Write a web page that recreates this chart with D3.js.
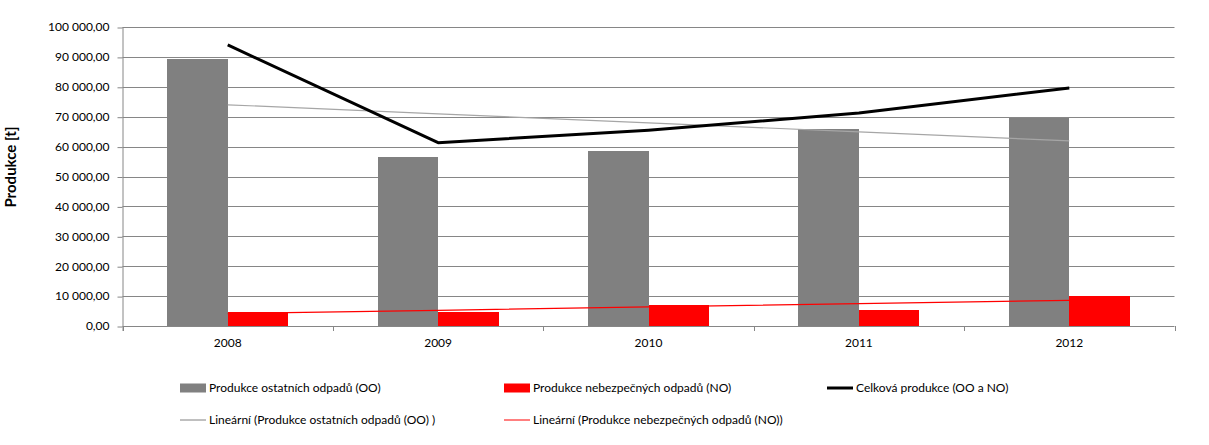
<!DOCTYPE html>
<html><head><meta charset="utf-8">
<script src="https://cdn.jsdelivr.net/npm/d3@7"></script>
<style>body{margin:0;background:#fff} text{font-family:Lato, "Open Sans", sans-serif;fill:#000}</style>
</head><body><svg id="c" width="1209" height="445"></svg>
<script>
const years = ["2008", "2009", "2010", "2011", "2012"];
const ooValues = [89300, 56500, 58500, 65900, 69500];
const noValues = [4700, 4800, 7000, 5350, 10000];
const totalValues = [94000, 61300, 65500, 71250, 79600];
const yTicks = [0, 10000, 20000, 30000, 40000, 50000, 60000, 70000, 80000, 90000, 100000];
const yTitle = "Produkce [t]";
const legendOO = "Produkce ostatních odpadů (OO)";
const legendNO = "Produkce nebezpečných odpadů (NO)";
const legendTotal = "Celková produkce (OO a NO)";
const legendTrendOO = "Lineární (Produkce ostatních odpadů (OO) )";
const legendTrendNO = "Lineární (Produkce nebezpečných odpadů (NO))";

const svg = d3.select("#c");
const pLeft = 122.5, pRight = 1174.5, pTop = 27, pBottom = 326;
const x = d3.scaleBand().domain(years).range([pLeft, pRight]).padding(0);
const y = d3.scaleLinear().domain([0, 100000]).range([pBottom, pTop]);
const cx = yr => x(yr) + x.bandwidth() / 2;
const barW = x.bandwidth() * 0.2875;
const loc = d3.formatLocale({decimal: ",", thousands: " ", grouping: [3], currency: ["", ""]});
const fmt = loc.format(",.2f");
const gridColor = "#868686";

// gridlines
svg.append("g").selectAll("line").data(yTicks.filter(t => t > 0)).join("line")
  .attr("x1", pLeft).attr("x2", pRight)
  .attr("y1", d => Math.round(y(d)) + 0.5).attr("y2", d => Math.round(y(d)) + 0.5)
  .attr("stroke", gridColor).attr("stroke-width", 1);

// bars
svg.append("g").selectAll("rect").data(years).join("rect")
  .attr("x", d => cx(d) - barW).attr("width", barW)
  .attr("y", (d, i) => y(ooValues[i])).attr("height", (d, i) => pBottom - y(ooValues[i]))
  .attr("fill", "#808080").attr("shape-rendering", "crispEdges");
svg.append("g").selectAll("rect").data(years).join("rect")
  .attr("x", d => cx(d)).attr("width", barW)
  .attr("y", (d, i) => y(noValues[i])).attr("height", (d, i) => pBottom - y(noValues[i]))
  .attr("fill", "#FF0000").attr("shape-rendering", "crispEdges");

// trend lines (linear regression of the series)
function trend(vals) {
  const xs = vals.map((v, i) => i + 1);
  const mx = d3.mean(xs), my = d3.mean(vals);
  const slope = d3.sum(xs.map((xv, i) => (xv - mx) * (vals[i] - my))) / d3.sum(xs.map(xv => (xv - mx) ** 2));
  return xs.map(xv => my + slope * (xv - mx));
}
const line = d3.line().x((d, i) => cx(years[i])).y(d => y(d));
svg.append("path").attr("d", line(trend(ooValues))).attr("fill", "none").attr("stroke", "#A6A6A6").attr("stroke-width", 1.2);
svg.append("path").attr("d", line(trend(noValues))).attr("fill", "none").attr("stroke", "#FF0000").attr("stroke-width", 1.2);

// total line
svg.append("path").attr("d", line(totalValues)).attr("fill", "none").attr("stroke", "#000").attr("stroke-width", 3).attr("stroke-linejoin", "round");

// axes
const yAxis = d3.axisLeft(y).tickValues(yTicks).tickFormat(fmt).tickSize(5).tickSizeOuter(0).tickPadding(8);
const gy = svg.append("g").attr("transform", `translate(${pLeft},0)`).call(yAxis);
gy.select(".domain").attr("stroke", gridColor).attr("d", `M0.5,${pTop}V${pBottom + 5}`);
gy.selectAll(".tick line").attr("stroke", gridColor).attr("transform", "translate(0,0.5)");
gy.selectAll("text").style("font-size", "12px").attr("fill", "#000");

const xAxis = d3.axisBottom(x).tickSize(0).tickPadding(12.5);
const gx = svg.append("g").attr("transform", `translate(0,${pBottom})`).call(xAxis);
gx.select(".domain").attr("stroke", gridColor).attr("d", `M${pLeft},0.5H${pRight}`);
gx.selectAll("text").style("font-size", "12px").attr("fill", "#000");
svg.append("g").selectAll("line").data(years.concat(["end"])).join("line")
  .attr("x1", (d, i) => Math.round(pLeft + i * x.step()) + 0.5)
  .attr("x2", (d, i) => Math.round(pLeft + i * x.step()) + 0.5)
  .attr("y1", pBottom).attr("y2", pBottom + 5).attr("stroke", gridColor);

// y title
svg.append("text").attr("transform", "translate(16,167) rotate(-90)").attr("text-anchor", "middle")
  .style("font-size", "15px").style("font-weight", "bold").text(yTitle);

// legend
const lg = svg.append("g").style("font-size", "12px");
const items = [
  {type: "rect", color: "#808080", label: legendOO, x: 180, y: 388},
  {type: "rect", color: "#FF0000", label: legendNO, x: 504, y: 388},
  {type: "line", color: "#000", w: 3, label: legendTotal, x: 827, y: 388},
  {type: "line", color: "#808080", w: 1, label: legendTrendOO, x: 180, y: 420},
  {type: "line", color: "#FF0000", w: 1, label: legendTrendNO, x: 504, y: 420}
];
items.forEach(it => {
  if (it.type === "rect") {
    lg.append("rect").attr("x", it.x).attr("y", it.y - 4.5).attr("width", 26).attr("height", 9).attr("fill", it.color);
  } else {
    lg.append("line").attr("x1", it.x).attr("x2", it.x + 26).attr("y1", it.y).attr("y2", it.y)
      .attr("stroke", it.color).attr("stroke-width", it.w);
  }
  lg.append("text").attr("x", it.x + 29).attr("y", it.y).attr("dy", "0.35em").text(it.label);
});
</script></body></html>
